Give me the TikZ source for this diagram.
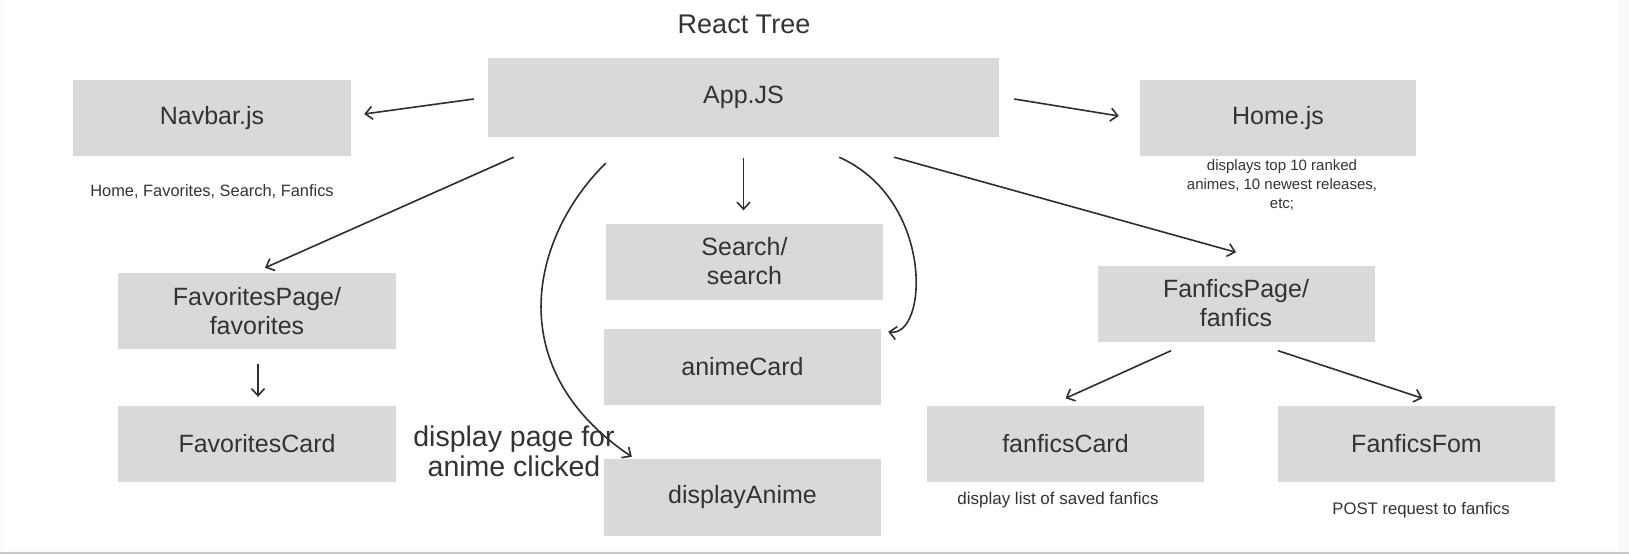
\documentclass[tikz,border=0pt]{standalone}
\usepackage{fontspec}
\setmainfont{Liberation Sans}
\usetikzlibrary{arrows.meta}

\definecolor{boxgray}{HTML}{D9D9D9}
\definecolor{inkgray}{HTML}{2E2E2E}
\definecolor{textgray}{HTML}{333333}

\tikzset{
  comp/.style={fill=boxgray, minimum width=277pt, minimum height=76pt, inner sep=0pt,
    text=textgray, align=center, font=\fontsize{25}{29}\selectfont},
  note/.style={text=textgray, align=center, font=\fontsize{15}{19}\selectfont},
  link/.style={draw=inkgray, line width=1.6pt, -{Straight Barb[length=7pt,width=13pt]}}
}

\begin{document}
\begin{tikzpicture}[x=1pt, y=-1pt]
      \useasboundingbox (0,0) rectangle (1629,554);
      \fill[white!98!black] (0,0) rectangle (1629,554);
      \fill[white] (3,0) rectangle (1618,551);
      \fill[black!22] (0,552) rectangle (1629,554);

      \node[textgray, font=\fontsize{27}{31}\selectfont] (title) at (744,24) {React Tree};

      % top row
      \node[comp, minimum width=511pt, minimum height=79pt] (app) at (743.5,97.5) {App.JS};
      \node[comp, minimum width=278pt] (navbar) at (212,118) {Navbar.js};
      \node[comp, minimum width=276pt] (home) at (1278,118) {Home.js};
      \node[note, font=\fontsize{16.4}{19}\selectfont] (navnote) at (212,192) {Home, Favorites, Search, Fanfics};
      \node[note] (homenote) at (1282,185) {displays top 10 ranked\\animes, 10 newest releases,\\etc;};

      % favorites branch
      \node[comp, minimum width=278pt] (favpage) at (257,311) {FavoritesPage/\\favorites};
      \node[comp, minimum width=278pt] (favcard) at (257,444) {FavoritesCard};

      % search column
      \node[comp] (search) at (744.5,261.5) {Search/\\search};
      \node[comp] (animecard) at (742.5,367) {animeCard};
      \node[comp, minimum height=77pt] (display) at (742.5,497.5) {displayAnime};
      \node[textgray, align=center, font=\fontsize{28.5}{30}\selectfont] (displaynote) at (514,451)
        {display page for\\anime clicked};

      % fanfics branch
      \node[comp] (fanpage) at (1236,303.5) {FanficsPage/\\fanfics};
      \node[comp] (fancard) at (1065.5,443.5) {fanficsCard};
      \node[comp] (fanform) at (1416.5,443.5) {FanficsFom};
      \node[note, font=\fontsize{17}{19}\selectfont] (fancardnote) at (1058,500) {display list of saved fanfics};
      \node[note, font=\fontsize{16.7}{19}\selectfont] (fanformnote) at (1421,510) {POST request to fanfics};

      \draw[link] ([shift={(-14,1.5)}]app.west) -- ([shift={(13,-4)}]navbar.east);
      \draw[link] ([shift={(15,1.5)}]app.east) -- ([shift={(-21,-2)}]home.west);
      \draw[link] ([shift={(26,20)}]app.south west) -- ([shift={(8,-5)}]favpage.north);
      \draw[link] ([shift={(0,21)}]app.south) -- ([shift={(-1,-13)}]search.north);
      \draw[link] ([shift={(-105,20)}]app.south east) -- ([shift={(0,-13)}]fanpage.north);
      \draw[link] ([shift={(1,15)}]favpage.south) -- ([shift={(1,-9)}]favcard.north);
      \draw[link] ([shift={(-65,9)}]fanpage.south) -- ([shift={(0,-7)}]fancard.north);
      \draw[link] ([shift={(42,9)}]fanpage.south) -- ([shift={(6,-7)}]fanform.north);

      % hand drawn curves
      \draw[link] ([shift={(118,26)}]app.south west) .. controls (535,232) and (496,365) .. ([shift={(28,-2)}]display.north west);
      \draw[link] ([shift={(-160,20)}]app.south east) .. controls (935,200) and (928,338) .. ([shift={(7,3)}]animecard.north east);
\end{tikzpicture}
\end{document}
